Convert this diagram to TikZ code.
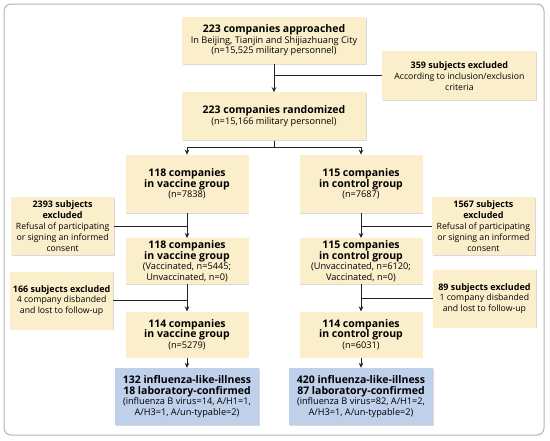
\documentclass[tikz,border=0pt]{standalone}
\usepackage{fontspec}
\setmainfont{Open Sans}
\usepackage{tikz}
\usetikzlibrary{arrows.meta,positioning,shadows}
\definecolor{boxtan}{HTML}{FBEFCB}
\definecolor{boxblue}{HTML}{BFD0EA}
\definecolor{framegray}{HTML}{B4B4B4}
\definecolor{linegray}{HTML}{222222}
\newcommand{\hd}[1]{{\bfseries\fontsize{10.5}{12.5}\selectfont #1}}
\newcommand{\xhd}[1]{{\bfseries\fontsize{9}{11}\selectfont #1}}

\begin{document}
\begin{tikzpicture}[
x=1pt,y=1pt,
font=\fontsize{9.2}{10.6}\selectfont,
box/.style={fill=boxtan,align=center,inner sep=0pt,minimum width=123pt,minimum height=46pt,drop shadow={shadow xshift=0.8pt,shadow yshift=-0.8pt,opacity=0.3}},
topbox/.style={box,minimum width=184pt,minimum height=48pt},
exbox/.style={box,font=\fontsize{8.7}{10.8}\selectfont,minimum width=103pt,minimum height=58pt},
resbox/.style={box,fill=boxblue,minimum width=144pt,minimum height=57pt},
flow/.style={-{Stealth[length=5pt,width=4.5pt]},line width=1pt,linegray},
link/.style={line width=1pt,linegray}]
\useasboundingbox (0,0) rectangle (550,-440);
\draw[framegray,line width=1pt,rounded corners=7pt] (4,-4) rectangle (544,-435);
% main column
\node[topbox,minimum height=47pt] (A) at (274,-40.5) {\hd{223 companies approached}\\In Beijing, Tianjin and Shijiazhuang City\\(n=15,525 military personnel)};
\node[topbox,below=28pt of A] (R) {\hd{223 companies randomized}\\(n=15,166 military personnel)};
\node[box,minimum height=58pt,below=14pt of R,xshift=-87pt] (V1) {\hd{118 companies}\\\hd{in vaccine group}\\(n=7838)};
\node[box,minimum height=58pt,below=14pt of R,xshift=87pt] (C1) {\hd{115 companies}\\\hd{in control group}\\(n=7687)};
\node[box,below=25pt of V1] (V2) {\hd{118 companies}\\\hd{in vaccine group}\\(Vaccinated, n=5445;\\Unvaccinated, n=0)};
\node[box,below=25pt of C1] (C2) {\hd{115 companies}\\\hd{in control group}\\(Unvaccinated, n=6120;\\Vaccinated, n=0)};
\node[box,below=27pt of V2] (V3) {\hd{114 companies}\\\hd{in vaccine group}\\(n=5279)};
\node[box,below=27pt of C2] (C3) {\hd{114 companies}\\\hd{in control group}\\(n=6031)};
\node[resbox,below=10pt of V3] (B1) {\hd{132 influenza-like-illness}\\\hd{18 laboratory-confirmed}\\(influenza B virus=14, A/H1=1,\\A/H3=1, A/un-typable=2)};
\node[resbox,below=10pt of C3] (B2) {\hd{420 influenza-like-illness}\\\hd{87 laboratory-confirmed}\\(influenza B virus=82, A/H1=2,\\A/H3=1, A/un-typable=2)};
% exclusions
\node[exbox,minimum width=154pt,minimum height=49pt,below right=-13pt and 16pt of A.south east] (X1) {\xhd{359 subjects excluded}\\According to inclusion/exclusion\\criteria};
\node[exbox,below left=-16pt and 11pt of V1.south west] (X2) {\xhd{2393 subjects}\\\xhd{excluded}\\Refusal of participating\\or signing an informed\\consent};
\node[exbox,below right=-16pt and 9pt of C1.south east] (X3) {\xhd{1567 subjects}\\\xhd{excluded}\\Refusal of participating\\or signing an informed\\consent};
\node[exbox,below left=-13pt and 12pt of V2.south west] (X4) {\xhd{166 subjects excluded}\\4 company disbanded\\and lost to follow-up};
\node[exbox,below right=-15pt and 10pt of C2.south east] (X5) {\xhd{89 subjects excluded}\\1 company disbanded\\and lost to follow-up};
% connectors
\draw[flow] (A) -- (R);
\draw[link] (X1) -- (X1 -| A);
\draw[flow] (R.south) -- ++(0,-7) -| (V1.north);
\draw[flow] (R.south) -- ++(0,-7) -| (C1.north);
\draw[flow] (V1) -- (V2);
\draw[flow] (V2) -- (V3);
\draw[flow] (V3) -- (B1);
\draw[flow] (C1) -- (C2);
\draw[flow] (C2) -- (C3);
\draw[flow] (C3) -- (B2);
\draw[link] (X2) -- (X2 -| V1);
\draw[link] (X3) -- (X3 -| C1);
\draw[link] (X4) -- (X4 -| V2);
\draw[link] (X5) -- (X5 -| C2);
\end{tikzpicture}
\end{document}
